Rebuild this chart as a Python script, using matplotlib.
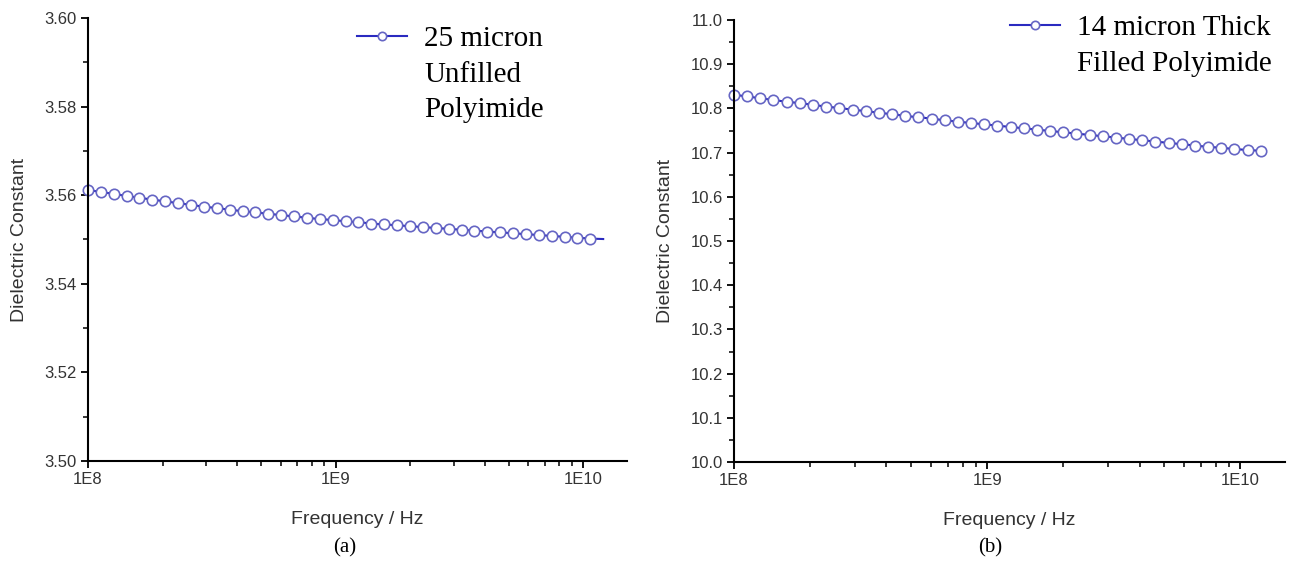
import matplotlib
matplotlib.use("Agg")
import matplotlib.pyplot as plt
from matplotlib.transforms import offset_copy
from matplotlib.ticker import FixedLocator, LogLocator, MultipleLocator, FuncFormatter, NullFormatter

# frequency sweep (Hz)
freq = [1.000e8, 1.127e8, 1.270e8, 1.432e8, 1.614e8, 1.820e8, 2.051e8, 2.312e8,
        2.606e8, 2.938e8, 3.311e8, 3.733e8, 4.207e8, 4.742e8, 5.346e8, 6.026e8,
        6.792e8, 7.656e8, 8.630e8, 9.727e8, 1.096e9, 1.236e9, 1.393e9, 1.570e9,
        1.770e9, 1.995e9, 2.249e9, 2.535e9, 2.858e9, 3.221e9, 3.631e9, 4.093e9,
        4.613e9, 5.200e9, 5.861e9, 6.607e9, 7.447e9, 8.395e9, 9.462e9, 1.067e10,
        1.202e10]

# (a) 25 micron unfilled polyimide
dk_unfilled = [3.5612, 3.5607, 3.5603, 3.5598, 3.5594, 3.5590, 3.5586, 3.5582,
               3.5578, 3.5574, 3.5571, 3.5567, 3.5564, 3.5561, 3.5558, 3.5555,
               3.5552, 3.5549, 3.5546, 3.5544, 3.5541, 3.5539, 3.5536, 3.5534,
               3.5532, 3.5530, 3.5528, 3.5526, 3.5524, 3.5522, 3.5520, 3.5518,
               3.5516, 3.5514, 3.5512, 3.5510, 3.5508, 3.5506, 3.5504, 3.5502,
               3.5501]

# (b) 14 micron thick filled polyimide
dk_filled = [10.831, 10.827, 10.823, 10.819, 10.815, 10.812, 10.808, 10.804,
             10.801, 10.797, 10.794, 10.790, 10.787, 10.783, 10.780, 10.777,
             10.773, 10.770, 10.767, 10.764, 10.761, 10.758, 10.755, 10.752,
             10.749, 10.746, 10.743, 10.740, 10.737, 10.734, 10.731, 10.728,
             10.725, 10.722, 10.719, 10.716, 10.713, 10.711, 10.708, 10.706,
             10.704]

x_ticks = [1e8, 1e9, 1e10]
x_ticklabels = ["1E8", "1E9", "1E10"]

label_a = ["25 micron", "Unfilled", "Polyimide"]
label_b = ["14 micron Thick", "Filled Polyimide"]

sans = ["Liberation Sans", "DejaVu Sans"]
serif = ["Liberation Serif", "DejaVu Serif"]

line_col = "#2a2ac0"
mk_col = "#6666c4"

fig = plt.figure(figsize=(12.92, 5.65), dpi=100)
ax1 = fig.add_axes([0.0681, 0.1841, 0.4172, 0.7841])
ax2 = fig.add_axes([0.5681, 0.1823, 0.4265, 0.7823])


def style(ax, ylim, ymajor, yminor, yfmt):
    ax.set_xscale("log")
    ax.set_xlim(1e8, 1.5e10)
    ax.set_ylim(*ylim)
    for s in ["top", "right"]:
        ax.spines[s].set_visible(False)
    for s in ["left", "bottom"]:
        ax.spines[s].set_linewidth(1.5)
    ax.xaxis.set_major_locator(FixedLocator(x_ticks))
    ax.xaxis.set_major_formatter(FuncFormatter(lambda v, p: x_ticklabels[x_ticks.index(v)] if v in x_ticks else ""))
    ax.xaxis.set_minor_locator(LogLocator(base=10, subs=range(2, 10)))
    ax.xaxis.set_minor_formatter(NullFormatter())
    ax.yaxis.set_major_locator(MultipleLocator(ymajor))
    ax.yaxis.set_minor_locator(MultipleLocator(yminor))
    ax.yaxis.set_major_formatter(FuncFormatter(lambda v, p: yfmt % v))
    ax.tick_params(which="major", direction="out", length=5, width=1.3, labelsize=12, pad=3)
    ax.tick_params(which="minor", direction="out", length=3.5, width=1.1)
    for lab in ax.get_xticklabels() + ax.get_yticklabels():
        lab.set_family(sans)
        lab.set_color("#333333")
    ax.set_xlabel("Frequency / Hz", family=sans, fontsize=14, color="#333333", labelpad=17)
    ax.set_ylabel("Dielectric Constant", family=sans, fontsize=14, color="#333333", labelpad=12)


style(ax1, (3.50, 3.60), 0.02, 0.01, "%.2f")
style(ax2, (10.0, 11.0), 0.1, 0.05, "%.1f")

l1, = ax1.plot(freq, dk_unfilled, "-o", color=line_col, lw=1.5, ms=7.5,
               mfc="white", mec=mk_col, mew=1.2, markevery=slice(0, 40), clip_on=False)
l2, = ax2.plot(freq, dk_filled, "-o", color=line_col, lw=1.5, ms=7.5,
               mfc="white", mec=mk_col, mew=1.2, clip_on=False)

renderer = fig.canvas.get_renderer()
for ax, ln, lines, hx, hy in [(ax1, l1, label_a, 0.4992, 0.9825),
                              (ax2, l2, label_b, 0.5009, 1.0123)]:
    leg = ax.legend([ln], [lines[0]], loc="upper left", bbox_to_anchor=(hx, hy),
                    frameon=False, borderpad=0, borderaxespad=0, handlelength=1.7,
                    handletextpad=0.6, markerscale=0.8,
                    prop={"family": serif, "size": 21})
    fig.canvas.draw()
    t = leg.get_texts()[0]
    bb = t.get_window_extent(renderer)
    _, _, descent = renderer.get_text_width_height_descent(lines[0], t.get_fontproperties(), ismath=False)
    x0, base = ax.transAxes.inverted().transform((bb.x0, bb.y0 + descent))
    for i, s in enumerate(lines[1:], start=1):
        dy = 30 + 35 * (i - 1)
        tr = offset_copy(ax.transAxes, fig=fig, y=-dy * 72 / 100, units="points")
        ax.text(x0, base, s, transform=tr, ha="left", va="baseline",
                family=serif, fontsize=21)

fig.text(0.5 * (0.0681 + 0.4853) - 0.01, 0.03, "(a)", ha="center", va="center", family=serif, fontsize=15)
fig.text(0.5 * (0.5681 + 0.9946) - 0.015, 0.03, "(b)", ha="center", va="center", family=serif, fontsize=15)

fig.savefig("out.png", dpi=100)
